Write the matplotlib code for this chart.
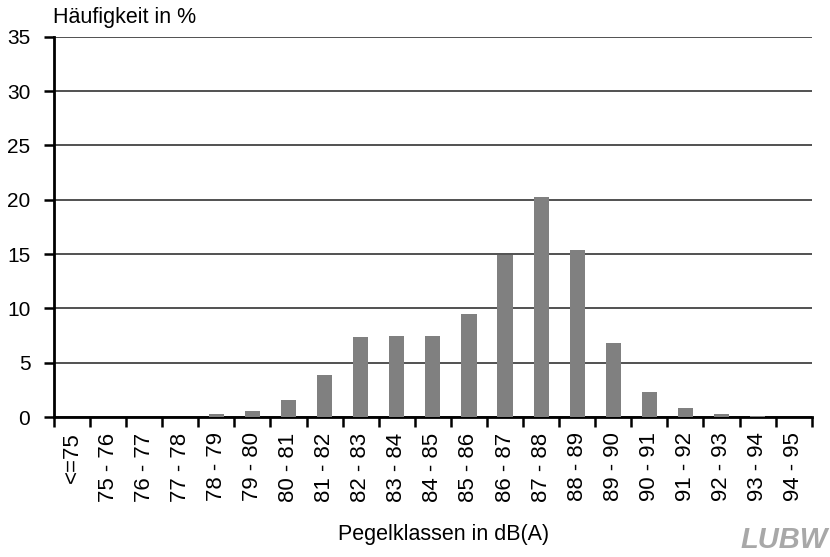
import numpy as np
import matplotlib
matplotlib.use("Agg")
import matplotlib.pyplot as plt

classes = ["<=75", "75 - 76", "76 - 77", "77 - 78", "78 - 79", "79 - 80", "80 - 81",
           "81 - 82", "82 - 83", "83 - 84", "84 - 85", "85 - 86", "86 - 87", "87 - 88",
           "88 - 89", "89 - 90", "90 - 91", "91 - 92", "92 - 93", "93 - 94", "94 - 95"]
share = [0.0, 0.0, 0.0, 0.0, 0.3, 0.6, 1.6, 3.9, 7.4, 7.5, 7.5, 9.5, 14.9, 20.3,
         15.4, 6.8, 2.3, 0.85, 0.3, 0.1, 0.0]
yticks = [0, 5, 10, 15, 20, 25, 30, 35]

plt.rcParams["font.family"] = ["Liberation Sans", "DejaVu Sans"]

fig = plt.figure(figsize=(8.3, 5.57), dpi=100)
ax = fig.add_axes([0.065, 0.251, 0.913, 0.683])

x = np.arange(len(classes))
ax.bar(x, share, width=0.42, color="#808080", zorder=3)

ax.set_xlim(-0.5, len(classes) - 0.5)
ax.set_ylim(0, 35)
ax.set_yticks(yticks)
ax.yaxis.grid(True, color="#222222", linewidth=1.1, zorder=0)

ax.set_xticks(x)
ax.set_xticklabels(classes, rotation=90, fontsize=16)
ax.set_xticks(np.arange(len(classes) + 1) - 0.5, minor=True)
ax.tick_params(axis="x", which="major", length=0, pad=11)
ax.tick_params(axis="x", which="minor", length=7, width=1.8, direction="out")
ax.tick_params(axis="y", length=7, width=1.8, labelsize=15, pad=10)

for s in ["top", "right"]:
    ax.spines[s].set_visible(False)
ax.spines["left"].set_linewidth(2)
ax.spines["bottom"].set_linewidth(2)

fig.text(0.064, 0.968, "Häufigkeit in %", fontsize=15.5, va="center")
fig.text(0.535, 0.04, "Pegelklassen in dB(A)", fontsize=15.5, ha="center", va="center")
fig.text(0.997, 0.03, "LUBW", fontsize=21, fontweight="bold", style="italic",
         color="#a8a8a8", ha="right", va="center")

fig.savefig("out.png", dpi=100)
